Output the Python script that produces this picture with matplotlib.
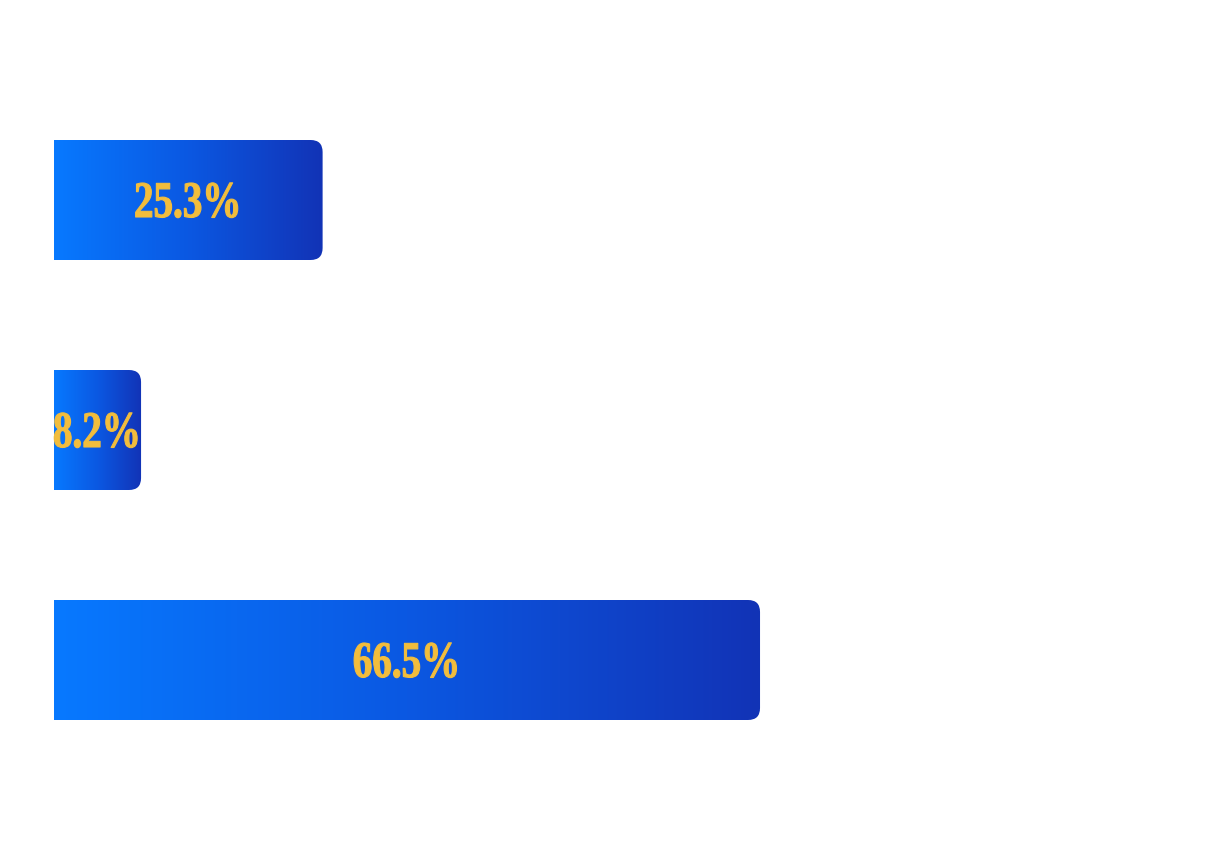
import matplotlib.pyplot as plt
import numpy as np
from matplotlib.colors import LinearSegmentedColormap
from matplotlib.patches import FancyBboxPatch
from matplotlib.patheffects import AbstractPathEffect
from matplotlib.transforms import Affine2D

values = [25.3, 8.2, 66.5]
labels = ["25.3%", "8.2%", "66.5%"]


class Squeeze(AbstractPathEffect):
    # narrows the glyphs around their own centre and thickens them a bit
    def __init__(self, sx=0.75, lw=0.8, color="#f2bd3c"):
        super().__init__()
        self.sx = sx
        self.lw = lw
        self.color = color

    def draw_path(self, renderer, gc, tpath, affine, rgbFace=None):
        xs = tpath.vertices[:, 0]
        cx = (xs.min() + xs.max()) / 2 if len(xs) else 0
        squeeze = Affine2D().translate(-cx, 0).scale(self.sx, 1).translate(cx, 0)
        gc0 = renderer.new_gc()
        gc0.copy_properties(gc)
        gc0.set_linewidth(self.lw)
        gc0.set_foreground(self.color)
        gc0.set_joinstyle("round")
        renderer.draw_path(gc0, tpath, squeeze + affine, rgbFace)
        gc0.restore()


W, H = 1220, 858
fig = plt.figure(figsize=(W / 100, H / 100), dpi=100)
# axes: left edge at 54px, bands of 230px centred at 200/430/660
ax = fig.add_axes([54 / W, (H - 775) / H, 1061.7 / W, 690 / H])
ax.axis("off")

cmap = LinearSegmentedColormap.from_list("blu", ["#0779ff", "#0b58e2", "#1233b6"])
grad = np.linspace(0, 1, 256).reshape(1, -1)

bar_h = 120 / 230
px_x = 1061.7 / 100   # pixels per x unit
px_y = 230            # pixels per y unit
r = 12 / px_x
aspect = px_x / px_y

for i, (v, lab) in enumerate(zip(values, labels)):
    y0 = i - bar_h / 2
    # box starts left of 0 so the left corners get cut off by the axes
    box = FancyBboxPatch((-2 * r, y0), v + 2 * r, bar_h,
                         boxstyle="round,pad=0,rounding_size=%f" % r,
                         mutation_aspect=aspect, facecolor="none",
                         edgecolor="none", transform=ax.transData)
    ax.add_patch(box)
    im = ax.imshow(grad, cmap=cmap, aspect="auto",
                   extent=[0, v, y0 + bar_h, y0], interpolation="bilinear")
    im.set_clip_path(box)
    ax.text(v / 2, i + 17 / px_y, lab, ha="center", va="baseline",
            color="#f2bd3c", fontsize=37, fontweight="bold",
            family=["Liberation Serif", "DejaVu Serif"],
            path_effects=[Squeeze(0.76)])

ax.set_xlim(0, 100)
ax.set_ylim(2.5, -0.5)
fig.savefig("out.png", dpi=100)
